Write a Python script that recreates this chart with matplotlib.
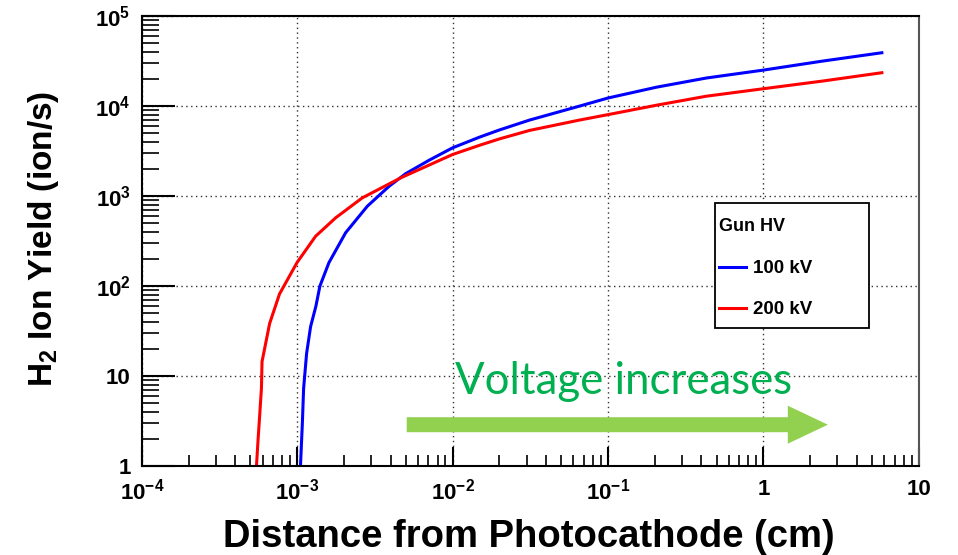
import numpy as np
import matplotlib
matplotlib.use('Agg')
import matplotlib.pyplot as plt
from matplotlib.patches import FancyArrow, Rectangle
from matplotlib.ticker import LogLocator, NullFormatter

plt.rcParams['font.family'] = ['Liberation Sans', 'DejaVu Sans']
plt.rcParams['mathtext.fontset'] = 'custom'
plt.rcParams['mathtext.rm'] = 'Liberation Sans'
plt.rcParams['mathtext.bf'] = 'Liberation Sans:bold'

# ion yield vs. distance, one curve per gun high voltage
dist_100kv = [1.05e-3, 1.08e-3, 1.10e-3, 1.15e-3, 1.22e-3, 1.32e-3, 1.40e-3,
              1.60e-3, 2.05e-3, 2.83e-3, 3.91e-3, 5.0e-3, 7.08e-3, 1.0e-2,
              1.49e-2, 2.0e-2, 3.13e-2, 6.56e-2, 0.1, 0.205, 0.429, 1.0,
              2.40, 5.79]
yield_100kv = [1, 3.0, 7.3, 17.9, 35.5, 60, 100, 182, 392, 774, 1290, 1780,
               2510, 3440, 4520, 5430, 7000, 10000, 12300, 16220, 20510,
               25120, 31620, 39170]

dist_200kv = [5.47e-4, 5.60e-4, 5.74e-4, 5.89e-4, 5.94e-4, 6.65e-4, 7.7e-4,
              1.0e-3, 1.315e-3, 1.77e-3, 2.62e-3, 4.65e-3, 1.0e-2, 1.49e-2,
              2.0e-2, 3.13e-2, 6.56e-2, 0.1, 0.205, 0.429, 1.0, 2.40, 5.79]
yield_200kv = [1, 1.95, 3.7, 7.4, 14.5, 38.5, 82, 184, 359, 575, 955, 1600,
               2900, 3670, 4320, 5370, 7000, 8040, 10230, 12880, 15600,
               18970, 23500]

x_ticks = [1e-4, 1e-3, 1e-2, 1e-1, 1, 10]
x_tick_labels = [r'$\mathbf{10^{-4}}$', r'$\mathbf{10^{-3}}$', r'$\mathbf{10^{-2}}$',
                 r'$\mathbf{10^{-1}}$', '1', '10']
y_ticks = [1, 10, 1e2, 1e3, 1e4, 1e5]
y_tick_labels = ['1', '10', r'$\mathbf{10^{2}}$', r'$\mathbf{10^{3}}$',
                 r'$\mathbf{10^{4}}$', r'$\mathbf{10^{5}}$']

fig = plt.figure(figsize=(9.58, 5.55), dpi=100)
ax = fig.add_axes([0.148, 0.160, 0.811, 0.811])

ax.plot(dist_100kv, yield_100kv, color='#0000FF', linewidth=2.2, label='100 kV')
ax.plot(dist_200kv, yield_200kv, color='#FF0000', linewidth=2.2, label='200 kV')

ax.set_xscale('log')
ax.set_yscale('log')
ax.set_xlim(1e-4, 10)
ax.set_ylim(1, 1e5)

ax.set_xticks(x_ticks)
ax.set_xticklabels(x_tick_labels, fontsize=16, fontweight='bold')
ax.set_yticks(y_ticks)
ax.set_yticklabels(y_tick_labels, fontsize=16, fontweight='bold')
ax.xaxis.set_minor_locator(LogLocator(base=10, subs=np.arange(2, 10), numticks=20))
ax.yaxis.set_minor_locator(LogLocator(base=10, subs=np.arange(2, 10), numticks=20))
ax.xaxis.set_minor_formatter(NullFormatter())
ax.yaxis.set_minor_formatter(NullFormatter())

ax.tick_params(axis='x', which='major', direction='in', length=14, width=1.5, pad=9)
ax.tick_params(axis='x', which='minor', direction='in', length=8, width=1.2)
ax.tick_params(axis='y', which='major', direction='in', length=24, width=1.5, pad=8)
ax.tick_params(axis='y', which='minor', direction='in', length=12, width=1.2)

ax.grid(True, which='major', linestyle=(0, (1, 2.5)), color='#333333', linewidth=1.0)
for side in ax.spines.values():
    side.set_linewidth(1.5)
ax.spines['right'].set_color('#555555')

# legend: boxed frame and title drawn separately, entries packed below the title
ax.add_patch(Rectangle((0.7375, 0.3067), 0.198, 0.278, transform=ax.transAxes,
                       facecolor='white', edgecolor='black', linewidth=1.3, zorder=4.5))
ax.text(0.7426, 0.5229, 'Gun HV', transform=ax.transAxes, ha='left', va='baseline',
        fontsize=13, fontweight='bold', zorder=6)
leg = ax.legend(loc='upper left', bbox_to_anchor=(0.7426, 0.458),
                prop={'weight': 'bold', 'size': 13.5},
                frameon=False, borderpad=0, borderaxespad=0,
                handlelength=1.44, handletextpad=0.37, labelspacing=1.28)

# green arrow with caption
arrow = FancyArrow(0.341, 0.0922, 0.542, 0, width=0.0333, head_width=0.0844,
                   head_length=0.0515, length_includes_head=True,
                   transform=ax.transAxes, color='#92D050', linewidth=0, zorder=4)
ax.add_patch(arrow)
ax.text(0.6197, 0.1615, 'Voltage increases', transform=ax.transAxes,
        ha='center', va='baseline', fontsize=31.5, color='#00B050', family='Lato')

fig.text(0.045, 0.570, r'H$_\mathbf{2}$ Ion Yield (ion/s)', rotation=90,
         ha='center', va='center', fontsize=24, fontweight='bold')
fig.text(0.552, 0.0144, 'Distance from Photocathode (cm)', ha='center',
         va='baseline', fontsize=27.5, fontweight='bold')

fig.savefig('out.png')
